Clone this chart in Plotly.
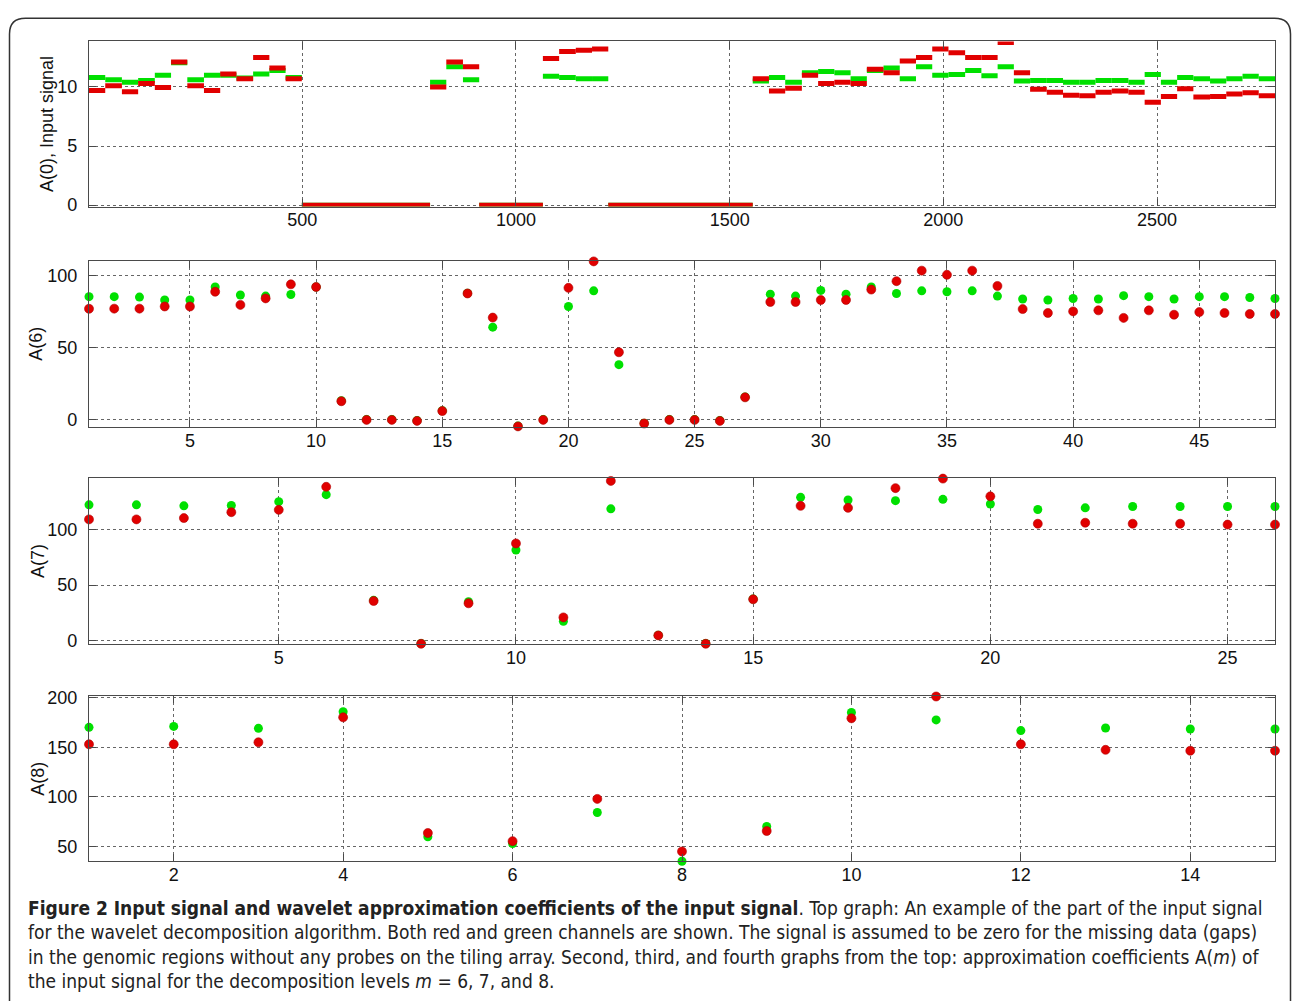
import plotly.graph_objects as go

W, H = 1293, 1008

# ---------------- Top panel: input signal (step segments) ----------------
blockA_edges = [1, 39, 78, 116, 155, 193, 231, 270, 308, 346, 385, 423, 461, 499]
blockA_red = [9.7, 10.1, 9.6, 10.3, 9.95, 12.1, 10.1, 9.7, 11.1, 10.7, 12.5, 11.6, 10.7]
blockA_green = [10.8, 10.6, 10.4, 10.55, 11.0, 12.05, 10.6, 11.0, 11.0, 10.75, 11.1, 11.4, 10.8]

blockB_edges = [799, 837, 876, 914]
blockB_red = [10.0, 12.1, 11.7]
blockB_green = [10.4, 11.7, 10.6]

blockC_edges = [1063, 1101, 1140, 1178, 1216]
blockC_red = [12.4, 13.0, 13.1, 13.2]
blockC_green = [10.9, 10.8, 10.7, 10.7]

blockD_edges = [1554, 1592, 1630, 1669, 1707, 1745, 1783, 1821, 1860, 1898, 1936,
                1974, 2012, 2051, 2089, 2127, 2165, 2203, 2242, 2280, 2318, 2356,
                2394, 2433, 2471, 2509, 2547, 2585, 2624, 2662, 2700, 2738, 2776]
blockD_red = [10.7, 9.65, 9.9, 11.0, 10.3, 10.4, 10.3, 11.5, 11.2, 12.2, 12.5,
              13.2, 12.9, 12.5, 12.5, 13.75, 11.2, 9.8, 9.55, 9.3, 9.25, 9.55,
              9.65, 9.55, 8.7, 9.2, 9.85, 9.15, 9.2, 9.4, 9.5, 9.25]
blockD_green = [10.5, 10.8, 10.4, 11.2, 11.3, 11.2, 10.7, 11.4, 11.6, 10.7, 11.7,
                11.0, 11.05, 11.4, 10.95, 11.7, 10.5, 10.55, 10.55, 10.4, 10.4, 10.55,
                10.55, 10.4, 11.05, 10.4, 10.8, 10.7, 10.5, 10.7, 10.9, 10.7]

gap_starts = [499, 914, 1216]
gap_ends = [799, 1063, 1554]
gap_value = 0.0

# ---------------- A(6), A(7), A(8) coefficients ----------------
a6_green = [85.3, 85.3, 85.0, 83.0, 83.0, 92.0, 86.4, 85.7, 86.8, 92.0,
            13.2, 0.2, 0.2, -0.5, 6.3, 87.7, 64.2, -4.3, 0.2, 78.5,
            89.3, 38.2, -2.3, 0.2, 0.2, -0.5, 15.8, 87.0, 85.7, 89.6,
            87.0, 92.0, 87.5, 89.3, 88.7, 89.3, 85.7, 83.7, 83.0, 84.0,
            83.7, 86.0, 85.3, 83.7, 85.3, 85.3, 84.7, 84.0]
a6_red = [76.9, 77.0, 77.0, 78.5, 78.5, 88.7, 79.6, 84.1, 93.8, 92.0,
          12.9, 0.0, 0.0, -0.7, 6.1, 87.5, 70.8, -4.5, 0.0, 91.4,
          109.7, 46.8, -2.5, 0.0, 0.0, -0.7, 15.6, 81.6, 81.6, 83.0,
          83.0, 90.2, 96.0, 103.3, 100.4, 103.3, 92.7, 76.7, 74.0, 75.1,
          75.8, 70.6, 75.8, 72.8, 74.6, 74.0, 73.3, 73.3]

a7_green = [122.3, 122.3, 121.4, 121.7, 125.2, 131.5, 36.2, -2.8, 35.0, 81.6,
            17.2, 118.7, 4.7, -2.8, 37.4, 129.1, 126.7, 126.1, 127.3, 123.1,
            118.1, 119.6, 120.8, 120.8, 120.8, 120.8]
a7_red = [109.2, 109.2, 110.4, 115.7, 117.8, 138.6, 35.6, -3.0, 33.5, 87.5,
          20.8, 143.9, 4.5, -3.0, 37.1, 121.4, 119.6, 137.4, 146.0, 130.0,
          105.3, 106.2, 105.3, 105.3, 104.5, 104.5]

a8_green = [170.2, 171.1, 169.2, 185.9, 59.7, 53.0, 84.3, 35.1, 70.2, 185.2,
            177.7, 166.9, 169.5, 168.5, 168.5]
a8_red = [153.1, 153.1, 155.1, 180.3, 63.6, 55.4, 98.0, 45.0, 65.6, 179.3,
          201.3, 153.1, 147.5, 146.6, 146.6]

panel_titles = ["A(0), Input signal", "A(6)", "A(7)", "A(8)"]

RED = "#e10000"
GREEN = "#00e000"


def seg_xy(edges, vals):
    xs, ys = [], []
    for i, v in enumerate(vals):
        xs += [edges[i], edges[i + 1], None]
        ys += [v, v, None]
    return xs, ys


def channel(blocks):
    X, Y = [], []
    for edges, vals in blocks:
        x, y = seg_xy(edges, vals)
        X += x
        Y += y
    for s, e in zip(gap_starts, gap_ends):
        X += [s, e, None]
        Y += [gap_value, gap_value, None]
    return X, Y


gx, gy = channel([(blockA_edges, blockA_green), (blockB_edges, blockB_green),
                  (blockC_edges, blockC_green), (blockD_edges, blockD_green)])
rx, ry = channel([(blockA_edges, blockA_red), (blockB_edges, blockB_red),
                  (blockC_edges, blockC_red), (blockD_edges, blockD_red)])

fig = go.Figure()
fig.add_trace(go.Scatter(x=gx, y=gy, mode="lines", line=dict(color=GREEN, width=5),
                         xaxis="x", yaxis="y", showlegend=False))
fig.add_trace(go.Scatter(x=rx, y=ry, mode="lines", line=dict(color=RED, width=5),
                         xaxis="x", yaxis="y", showlegend=False))

for k, (g, r) in enumerate([(a6_green, a6_red), (a7_green, a7_red), (a8_green, a8_red)]):
    idx = str(k + 2)
    xs = list(range(1, len(g) + 1))
    fig.add_trace(go.Scatter(x=xs, y=g, mode="markers", cliponaxis=False,
                             marker=dict(color=GREEN, size=9, line=dict(width=0)),
                             xaxis="x" + idx, yaxis="y" + idx, showlegend=False))
    fig.add_trace(go.Scatter(x=xs, y=r, mode="markers", cliponaxis=False,
                             marker=dict(color=RED, size=9, line=dict(width=0.6, color="#b00000")),
                             xaxis="x" + idx, yaxis="y" + idx, showlegend=False))

# panel geometry in pixels (top, bottom)
panels_px = [(34, 202), (257, 426), (478, 647), (700, 868)]
x_left, x_right = 89, 1275
xdom = [x_left / W, x_right / W]

xranges = [[1, 2776], [1, 48], [1, 26], [1, 15]]
yranges = [[-0.12, 13.85], [-4.8, 110.2], [-3.3, 146.6], [35, 201.6]]
xticks = [[500, 1000, 1500, 2000, 2500], list(range(5, 48, 5)), list(range(5, 27, 5)),
          list(range(2, 16, 2))]
yticks = [[0, 5, 10], [0, 50, 100], [0, 50, 100], [50, 100, 150, 200]]

FONT = "Liberation Sans, Arial, sans-serif"
tickfont = dict(family=FONT, size=18, color="#111")
axis_common = dict(showline=True, linecolor="#4a4a4a", linewidth=1.3, mirror="allticks",
                   ticks="inside", ticklen=7, tickcolor="#4a4a4a", tickwidth=1.3,
                   showgrid=True, gridcolor="#666", griddash="dot", gridwidth=1,
                   zeroline=False, tickfont=tickfont, fixedrange=True)

layout = dict(width=W, height=H, margin=dict(l=0, r=0, t=0, b=0),
              paper_bgcolor="white", plot_bgcolor="white", showlegend=False)

for i in range(4):
    sx = "" if i == 0 else str(i + 1)
    top, bot = panels_px[i]
    ydom = [1 - bot / H, 1 - top / H]
    layout["xaxis" + sx] = dict(domain=xdom, range=xranges[i], tickvals=xticks[i],
                                anchor="y" + sx, ticklabelstandoff=-3, **axis_common)
    layout["yaxis" + sx] = dict(domain=ydom, range=yranges[i], tickvals=yticks[i],
                                anchor="x" + sx, ticklabelstandoff=7, **axis_common)

fig.update_layout(**layout)

# y-axis titles
title_x = [47, 36, 38, 38]
annotations = []
for i in range(4):
    top, bot = panels_px[i]
    annotations.append(dict(x=title_x[i] / W, y=1 - (top + bot) / 2 / H, xref="paper", yref="paper",
                            text=panel_titles[i], textangle=-90, showarrow=False,
                            xanchor="center", yanchor="middle",
                            font=dict(family=FONT, size=18, color="#111")))

caption_lines = [
    "<b>Figure 2 Input signal and wavelet approximation coefficients of the input signal</b>. Top graph: An example of the part of the input signal",
    "for the wavelet decomposition algorithm. Both red and green channels are shown. The signal is assumed to be zero for the missing data (gaps)",
    "in the genomic regions without any probes on the tiling array. Second, third, and fourth graphs from the top: approximation coefficients A(<i>m</i>) of",
    "the input signal for the decomposition levels <i>m</i> = 6, 7, and 8.",
]
caption_y = [915, 940, 965, 990]
for line, yy in zip(caption_lines, caption_y):
    annotations.append(dict(x=26 / W, y=1 - yy / H, xref="paper", yref="paper", text=line,
                            showarrow=False, xanchor="left", yanchor="middle", align="left",
                            font=dict(family="Liberation Sans Narrow, DejaVu Sans Condensed, sans-serif",
                                      size=19, color="#222")))
fig.update_layout(annotations=annotations)

# rounded frame around the figure (open at the bottom)
def P(px, py):
    return f"{px / W:.5f},{1 - py / H:.5f}"

r = 16
L, R, T, B = 9.5, 1290.5, 10.5, 1010
path = (f"M {P(L, B)} L {P(L, T + r)} Q {P(L, T)} {P(L + r, T)} "
        f"L {P(R - r, T)} Q {P(R, T)} {P(R, T + r)} L {P(R, B)}")
fig.add_shape(type="path", path=path, xref="paper", yref="paper",
              line=dict(color="#333", width=1.5), layer="below")

fig.write_html("out.html", config={"displayModeBar": False},
               post_script="document.body.style.margin='0';document.body.style.overflow='hidden';")
